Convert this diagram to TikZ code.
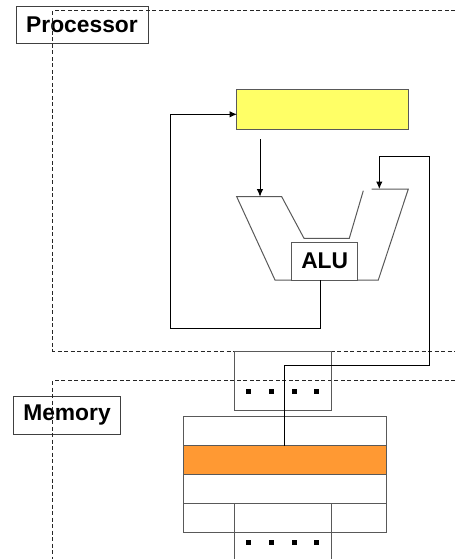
\documentclass[tikz,border=0pt]{standalone}
\usepackage{fontspec}
\setmainfont{Liberation Sans}
\usetikzlibrary{arrows.meta}
\definecolor{regyellow}{HTML}{FFFF66}
\definecolor{memorange}{HTML}{FF9933}
\tikzset{
  lbl/.style={draw=black!75, line width=0.8pt, fill=white, inner sep=0pt,
    font=\bfseries\fontsize{22.8}{25}\selectfont},
  region/.style={draw=black!85, line width=0.8pt, dash pattern=on 4pt off 2.5pt},
  part/.style={draw=black!65, line width=1pt},
  wire/.style={draw=black, line width=1pt},
  arr/.style={wire, -{Latex[length=7.5pt,width=6.5pt]}},
  memrow/.style={part, minimum width=203.7pt, minimum height=28.9pt, inner sep=0pt},
  sq/.style={fill=black, minimum size=5pt, inner sep=0pt}
}
\begin{document}
\begin{tikzpicture}[x=1pt,y=-1pt]
\useasboundingbox (0,0) rectangle (455,559);
% labels
\node[lbl, minimum width=132pt, minimum height=37pt] (proclbl) at (82,24.5) {Processor};
\node[lbl, minimum width=107.4pt, minimum height=37.6pt] (memlbl) at (67,415.5) {Memory};
% regions
\draw[region] (455,10.7) -- (52.7,10.7) -- (52.7,351) -- (455,351);
\draw[region] (455,380.3) -- (52.7,380.3) -- (52.7,559);
% register file
\node[part, fill=regyellow, minimum width=171.6pt, minimum height=40.7pt, inner sep=0pt] (reg) at (322.5,109.6) {};
% ALU shape
\draw[part] (371.7,189) -- (408.3,189) -- (378.3,280) -- (275,280) -- (236.7,196.7)
  -- (281.7,196.7) -- (304,238.3) -- (349.3,238.3) -- (363.3,190.7);
\node[part, fill=white, inner sep=0pt, minimum width=66pt, minimum height=37.7pt,
  font=\bfseries\fontsize{22.8}{25}\selectfont] (alu) at (324.7,261.2) {ALU};
% memory interface box
\node[part, minimum width=97.7pt, minimum height=58.3pt, inner sep=0pt] (bus) at (282.85,380.85) {};
\foreach \x [count=\i] in {248.3,271.7,294,316.7} {
  \node[sq] (ta\i) at (\x,391.7) {};
}
% memory array
\node[memrow] (m1) at (284.85,431.2) {};
\node[memrow, fill=memorange] (m2) at (284.85,460.1) {};
\node[memrow] (m3) at (284.85,489.0) {};
\node[memrow] (m4) at (284.85,517.9) {};
\draw[part] (234,503.7) -- (234,559);
\draw[part] (331.7,503.7) -- (331.7,559);
\foreach \x [count=\i] in {248.3,271.7,294,316.7} {
  \node[sq] (tb\i) at (\x,542.7) {};
}
% connectors
\coordinate (aluout) at (320,280);
\coordinate (regin) at (237,114.3);
\coordinate (regout) at (260,139.3);
\coordinate (ina) at (260,196.7);
\coordinate (inb) at (379.3,189);
\coordinate (memout) at (284.3,445.7);
\draw[arr] (aluout) -- (320,328.3) -- (170.7,328.3) -- (170.7,114.3) -- (regin);
\draw[arr] (regout) -- (ina);
\draw[arr] (memout) -- (284.3,365.7) -- (429.3,365.7) -- (429.3,156.7) -- (379.3,156.7) -- (inb);
\end{tikzpicture}
\end{document}
